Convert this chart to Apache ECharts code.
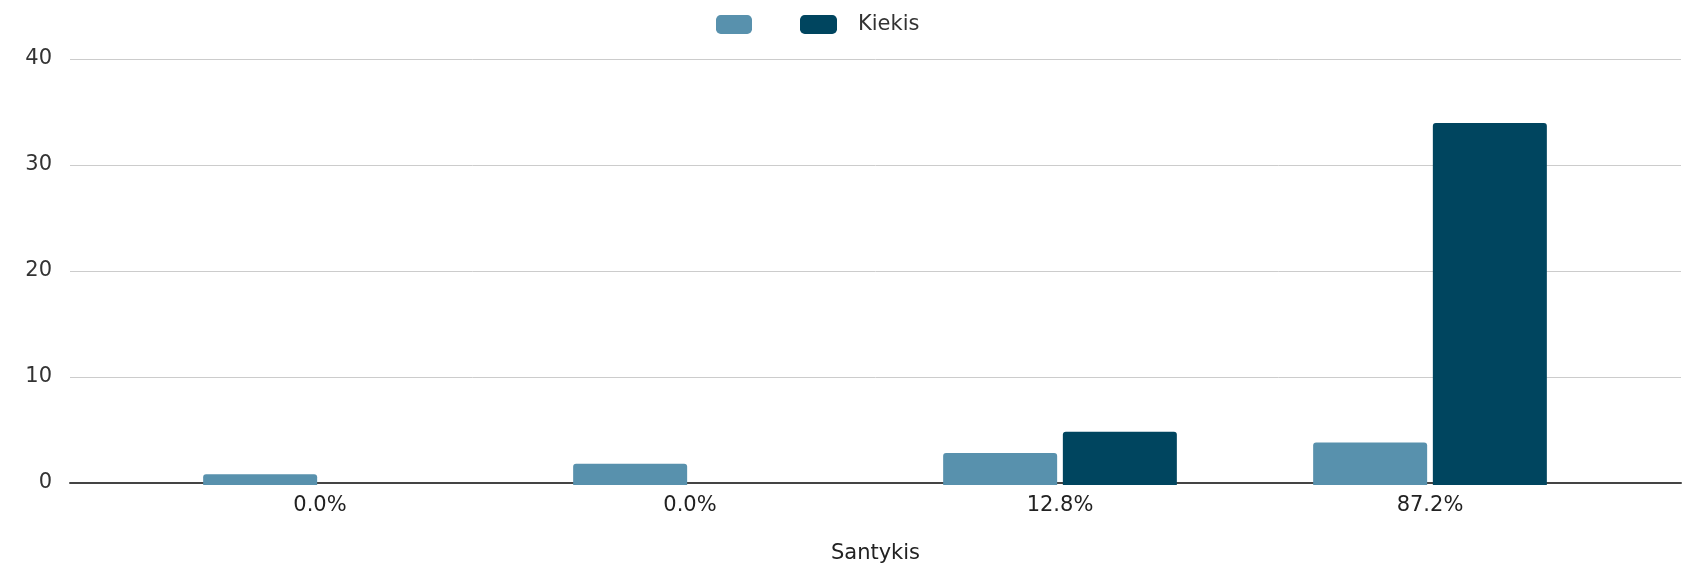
<!DOCTYPE html>
<html>
<head>
<meta charset="utf-8">
<script src="https://cdn.jsdelivr.net/npm/echarts@6/dist/echarts.min.js"></script>
<style>
  html, body { margin: 0; padding: 0; background: #fff; }
  #chart { width: 1684px; height: 569px; }
</style>
</head>
<body>
<div id="chart"></div>
<script>
// data
const categories = ['0.0%', '0.0%', '12.8%', '87.2%'];
const firstValues = [1, 2, 3, 4];     // light series, no name in the legend
const kiekisValues = [0, 0, 5, 34];
const yTicks = { min: 0, max: 40, interval: 10 };

const colors = ['#5891ad', '#00455f'];
const font = 'DejaVu Sans';

const myChart = echarts.init(document.getElementById('chart'));

const option = {
  animation: false,
  color: colors,
  textStyle: { fontFamily: font },
  legend: [
    {
      data: [' '],
      left: 711, top: 9,
      itemWidth: 36, itemHeight: 19,
      textStyle: { fontSize: 21, color: '#333', fontFamily: font }
    },
    {
      data: ['Kiekis'],
      left: 795, top: 9,
      itemWidth: 37, itemHeight: 19,
      textStyle: { fontSize: 21, color: '#333', fontFamily: font, padding: [0, 0, 0, 16] }
    }
  ],
  grid: [
    // full-width grid: grid lines, y labels, baseline
    { left: 70, right: 3, top: 59, bottom: 84 },
    // inner grid holding the bars
    { left: 135, right: 69, top: 59, bottom: 84 }
  ],
  xAxis: [
    {
      gridIndex: 0,
      type: 'value', min: 0, max: 1,
      axisLabel: { show: false },
      axisTick: { show: false },
      splitLine: { show: false },
      axisLine: { show: true, lineStyle: { color: '#444', width: 2 } },
      name: 'Santykis',
      nameLocation: 'middle',
      nameGap: 60,
      nameTextStyle: { fontSize: 21, color: '#222', fontFamily: font }
    },
    {
      gridIndex: 1,
      type: 'category',
      data: categories,
      axisLine: { show: false },
      axisTick: { show: false },
      axisLabel: { fontSize: 21, color: '#222', margin: 10, fontFamily: font }
    }
  ],
  yAxis: [
    {
      gridIndex: 0,
      type: 'value',
      min: yTicks.min, max: yTicks.max, interval: yTicks.interval,
      axisLine: { show: false },
      axisTick: { show: false },
      axisLabel: { fontSize: 21, color: '#333', margin: 18, fontFamily: font },
      splitLine: { lineStyle: { color: '#cccccc', width: 1 } }
    },
    {
      gridIndex: 1,
      type: 'value',
      min: yTicks.min, max: yTicks.max, interval: yTicks.interval,
      show: false,
      splitLine: { show: false }
    }
  ],
  series: [
    {
      name: ' ',
      type: 'bar',
      xAxisIndex: 1, yAxisIndex: 1,
      barWidth: 114,
      barGap: '5%',
      itemStyle: { borderRadius: [3, 3, 0, 0] },
      data: firstValues
    },
    {
      name: 'Kiekis',
      type: 'bar',
      xAxisIndex: 1, yAxisIndex: 1,
      barWidth: 114,
      barGap: '5%',
      itemStyle: { borderRadius: [3, 3, 0, 0] },
      data: kiekisValues
    }
  ]
};

myChart.setOption(option);
</script>
</body>
</html>
